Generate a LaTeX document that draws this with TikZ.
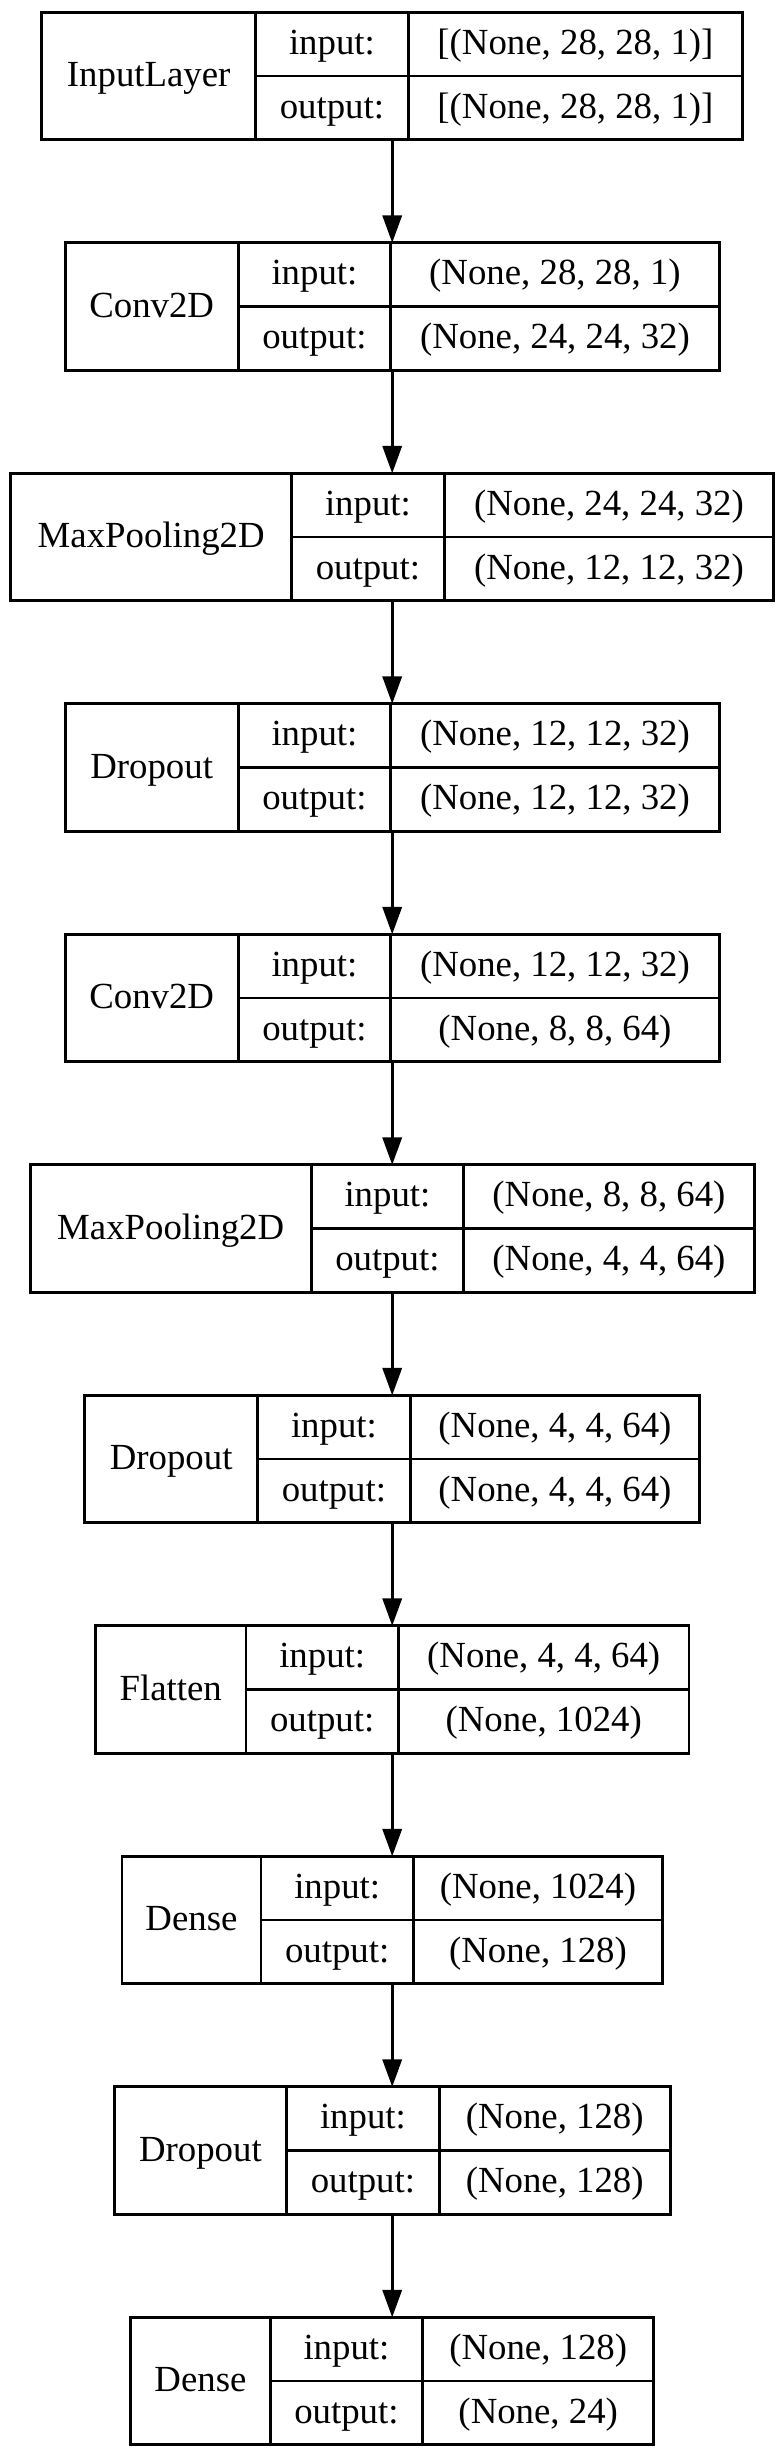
\documentclass[tikz,border=0pt]{standalone}
\usepackage{fontspec}
\setmainfont{Liberation Serif}
\usetikzlibrary{arrows.meta}
\tikzset{
  layerbox/.style={draw, line width=2.75pt, minimum height=127.5pt, inner sep=0pt, outer sep=0pt},
  cell/.style={line width=2.75pt},
  txt/.style={anchor=base, inner sep=0pt, outer sep=0pt, font=\fontsize{36.8}{44}\selectfont},
  conn/.style={line width=2.75pt, -{Triangle[length=27.5pt,width=19.25pt]}}
}
\newcommand{\lyr}[7]{%
  \pgfmathsetmacro\lyT{12.3+230.5*(#2-1)}%
  \pgfmathsetmacro\lyL{392.2-#3}%
  \pgfmathsetmacro\lyA{\lyL+#4}%
  \pgfmathsetmacro\lyB{\lyA+152.5}%
  \pgfmathsetmacro\lyR{392.2+#3}%
  \node[layerbox, minimum width={2*#3*1pt}, anchor=north] (#1) at (392.2,\lyT) {};
  \draw[cell] ({\lyA},{\lyT}) -- ({\lyA},{\lyT+127.5})
              ({\lyB},{\lyT}) -- ({\lyB},{\lyT+127.5})
              ({\lyA},{\lyT+63.75}) -- ({\lyR},{\lyT+63.75});
  \node[txt] (#1-name) at ({(\lyL+\lyA)/2},{\lyT+63.75+10.6}) {#5};
  \node[txt] (#1-inl) at ({(\lyA+\lyB)/2},{\lyT+31.9+10.2}) {input:};
  \node[txt] (#1-outl) at ({(\lyA+\lyB)/2},{\lyT+95.6+10.2}) {output:};
  \node[txt] (#1-inv) at ({(\lyB+\lyR)/2},{\lyT+31.9+10.2}) {#6};
  \node[txt] (#1-outv) at ({(\lyB+\lyR)/2},{\lyT+95.6+10.2}) {#7};
}
\begin{document}
\begin{tikzpicture}[x=1pt,y=-1pt]
  \fill[white] (0,0) rectangle (783,2458);
  \useasboundingbox (0,0) rectangle (783,2458);
  \lyr{L1}{1}{350.5}{214}{InputLayer}{[(None, 28, 28, 1)]}{[(None, 28, 28, 1)]}
  \lyr{L2}{2}{327}{173}{Conv2D}{(None, 28, 28, 1)}{(None, 24, 24, 32)}
  \lyr{L3}{3}{381.5}{281}{MaxPooling2D}{(None, 24, 24, 32)}{(None, 12, 12, 32)}
  \lyr{L4}{4}{327}{173}{Dropout}{(None, 12, 12, 32)}{(None, 12, 12, 32)}
  \lyr{L5}{5}{327}{173}{Conv2D}{(None, 12, 12, 32)}{(None, 8, 8, 64)}
  \lyr{L6}{6}{362}{281}{MaxPooling2D}{(None, 8, 8, 64)}{(None, 4, 4, 64)}
  \lyr{L7}{7}{307.5}{173}{Dropout}{(None, 4, 4, 64)}{(None, 4, 4, 64)}
  \lyr{L8}{8}{296.75}{150.5}{Flatten}{(None, 4, 4, 64)}{(None, 1024)}
  \lyr{L9}{9}{270.25}{139}{Dense}{(None, 1024)}{(None, 128)}
  \lyr{L10}{10}{278}{172.5}{Dropout}{(None, 128)}{(None, 128)}
  \lyr{L11}{11}{261.5}{139.5}{Dense}{(None, 128)}{(None, 24)}
  \foreach \a/\b in {L1/L2,L2/L3,L3/L4,L4/L5,L5/L6,L6/L7,L7/L8,L8/L9,L9/L10,L10/L11}
    \draw[conn] (\a.south) -- (\b.north);
\end{tikzpicture}
\end{document}
